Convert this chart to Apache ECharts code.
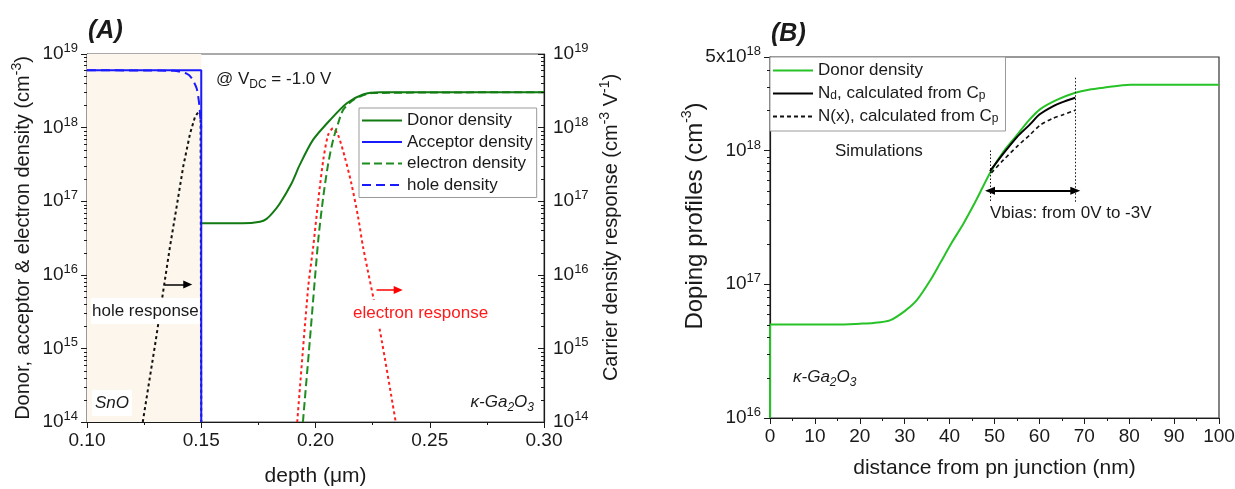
<!DOCTYPE html>
<html>
<head>
<meta charset="utf-8">
<script src="https://cdn.jsdelivr.net/npm/echarts@6/dist/echarts.min.js"></script>
<style>
  html, body { margin: 0; padding: 0; background: #ffffff; }
  #chartA, #chartB { position: absolute; left: 0; top: 0; width: 1235px; height: 489px; }
</style>
</head>
<body>
<div id="chartA"></div>
<div id="chartB"></div>
<script>
const FONT = '"Liberation Sans", Arial, Helvetica, sans-serif';
const INK = '#1a1a1a';

// ---------------- Panel (A): densities vs depth ----------------
const depthTicksA = [0.10, 0.15, 0.20, 0.25, 0.30];   // µm
const densityRangeA = [1e14, 1e19];                   // cm^-3 (both y axes)

const acceptorDepth   = [0.100, 0.150, 0.150];
const acceptorDensity = [6.0e18, 6.0e18, 1e14];

const holeDepth   = [0.100, 0.138, 0.1436, 0.1458, 0.148, 0.1491, 0.1497, 0.150];
const holeDensity = [6.0e18, 5.9e18, 5.4e18, 4.7e18, 3.4e18, 2.1e18, 1.26e18, 1.0e18];

const donorDepthA   = [0.150, 0.168, 0.1757, 0.1786, 0.1815, 0.1844, 0.1895, 0.1932, 0.1989, 0.2063, 0.2137, 0.2208, 0.2282, 0.240, 0.300];
const donorDensityA = [5.0e16, 5.0e16, 5.25e16, 5.75e16, 7.1e16, 9.3e16, 1.74e17, 3.16e17, 6.8e17, 1.26e18, 2.14e18, 2.82e18, 3.02e18, 3.02e18, 3.02e18];

const electronDepth   = [0.1945, 0.1975, 0.2012, 0.2034, 0.2055, 0.2077, 0.2100, 0.2121, 0.2158, 0.2200, 0.2250, 0.300];
const electronDensity = [1.0e14, 1.26e15, 2.95e16, 1.15e17, 3.16e17, 6.8e17, 1.17e18, 1.74e18, 2.29e18, 2.69e18, 2.95e18, 3.02e18];

// carrier density response (cm^-3 V^-1), right axis
const holeRespDepth = [0.1244, 0.1300, 0.1363, 0.1392, 0.1421, 0.1451, 0.1473, 0.1487, 0.1497, 0.1500];
const holeResp      = [1e14, 1.23e15, 2.4e16, 8.3e16, 2.95e17, 8.3e17, 1.41e18, 1.62e18, 1.51e18, 1e14];

const elecRespDepth = [0.1920, 0.1968, 0.1990, 0.2012, 0.2034, 0.2055, 0.2077, 0.2099, 0.2128, 0.2157, 0.2186, 0.2208, 0.2282, 0.2351];
const elecResp      = [1.0e14, 6.8e15, 2.4e16, 1.02e17, 3.63e17, 7.9e17, 9.8e17, 7.9e17, 4.0e17, 1.74e17, 6.2e16, 2.4e16, 1.74e15, 1.0e14];

// ---------------- Panel (B): doping profiles vs distance ----------------
const distanceTicksB = [0, 10, 20, 30, 40, 50, 60, 70, 80, 90, 100]; // nm
const densityRangeB = [1e16, 5e18];

const donorDistB = [0, 0, 5, 10, 15, 20, 23, 26.7, 30, 32.7, 35.7, 38, 40.5, 43.1, 46, 49, 52, 54.9, 57.5, 60.2, 64, 68, 71, 74.3, 80.2, 85, 90, 100];
const donorB     = [1e16, 5.0e16, 5.0e16, 5.0e16, 5.0e16, 5.07e16, 5.13e16, 5.37e16, 6.3e16, 7.6e16, 1.07e17, 1.46e17, 2.05e17, 2.85e17, 4.3e17, 6.8e17, 9.8e17, 1.29e18, 1.66e18, 2.04e18, 2.4e18, 2.7e18, 2.85e18, 2.95e18, 3.1e18, 3.1e18, 3.1e18, 3.1e18];

const ndDist = [49, 52, 55, 58, 60, 63, 65, 68];
const ndCp   = [7.0e17, 9.5e17, 1.26e18, 1.58e18, 1.86e18, 2.14e18, 2.29e18, 2.48e18];

const nxDist = [49.3, 52, 55, 58, 60.2, 63, 65.4, 68];
const nxCp   = [6.8e17, 8.5e17, 1.07e18, 1.32e18, 1.55e18, 1.74e18, 1.86e18, 2.0e18];

const biasStart = 49, biasEnd = 68;   // nm, Vbias 0 V .. -3 V

// ---------------- helpers ----------------
const pairs = (xs, ys) => xs.map((x, i) => [x, ys[i]]);

function powerLabel(v) {
  const e = Math.floor(Math.log10(v) + 1e-9);
  const m = Math.round(v / Math.pow(10, e) * 10) / 10;
  return m === 1 ? '{b|10}{s|' + e + '}' : '{b|' + m + 'x10}{s|' + e + '}';
}
const tickRich = {
  b: { fontSize: 19, lineHeight: 24, color: INK, fontFamily: FONT },
  s: { fontSize: 13, lineHeight: 14, color: INK, fontFamily: FONT, verticalAlign: 'top' }
};
const nameRich = {
  sup: { fontSize: 14, lineHeight: 15, color: INK, fontFamily: FONT, verticalAlign: 'top' }
};
const textRich = {
  sub: { fontSize: 12, lineHeight: 13, fontFamily: FONT, verticalAlign: 'bottom' },
  isub:{ fontSize: 12, lineHeight: 13, fontFamily: FONT, fontStyle: 'italic', verticalAlign: 'bottom' }
};

// minor ticks of a log axis at 2..9 x 10^n
function logMinorValues(range) {
  const out = [];
  const lo = Math.round(Math.log10(range[0])), hi = Math.ceil(Math.log10(range[1]));
  for (let e = lo; e < hi; e++) for (let m = 2; m <= 9; m++) {
    const v = m * Math.pow(10, e);
    if (v < range[1]) out.push(v);
  }
  return out;
}
function minorTickSeries(values, xEdge, yAxisIndex, len) {
  return {
    type: 'custom', yAxisIndex: yAxisIndex, silent: true, clip: false, z: 6,
    data: values.map(v => [xEdge, v]),
    renderItem: (params, api) => {
      const p = api.coord([api.value(0), api.value(1)]);
      const y = Math.round(p[1]) + 0.5;
      return { type: 'line', shape: { x1: p[0] - len, y1: y, x2: p[0], y2: y },
               style: { stroke: INK, lineWidth: 1 } };
    }
  };
}
function valueXAxis(ticks, interval, name, nameGap, digits) {
  return {
    type: 'value', min: ticks[0], max: ticks[ticks.length - 1], interval: interval,
    name: name, nameLocation: 'middle', nameGap: nameGap, nameMoveOverlap: false,
    nameTextStyle: { fontSize: 21, color: INK, fontFamily: FONT },
    axisLine: { show: true, onZero: false, lineStyle: { color: INK, width: 1.2 } },
    axisTick: { show: true, length: 6, lineStyle: { color: INK, width: 1 } },
    minorTick: { show: true, splitNumber: 2, length: 3, lineStyle: { color: INK, width: 1 } },
    axisLabel: { fontSize: 19, color: INK, fontFamily: FONT, margin: 9,
                 formatter: v => v.toFixed(digits) },
    splitLine: { show: false }, minorSplitLine: { show: false }
  };
}
function logYAxis(range, opts) {
  return Object.assign({
    type: 'log', logBase: 10, min: range[0], max: range[1],
    nameLocation: 'middle', nameRotate: 90, nameMoveOverlap: false,
    axisLine: { show: true, lineStyle: { color: INK, width: 1.2 } },
    axisTick: { show: true, length: 6, lineStyle: { color: INK, width: 1 } },
    axisLabel: { color: INK, fontFamily: FONT, margin: 9, formatter: powerLabel, rich: tickRich },
    splitLine: { show: false }, minorTick: { show: false }, minorSplitLine: { show: false }
  }, opts);
}
function label(text, x, y, extra) {
  return {
    type: 'text', x: x, y: y, z: 100, silent: true,
    style: Object.assign({
      text: text, fill: INK, fontSize: 17, fontFamily: FONT,
      lineHeight: 24, align: 'left', verticalAlign: 'middle', rich: textRich
    }, extra || {})
  };
}
function legendBox(left, top, padding, gap, names) {
  return {
    left: left, top: top, orient: 'vertical', selectedMode: false,
    itemWidth: 40, itemHeight: 12, itemGap: gap, padding: padding,
    itemStyle: { opacity: 0 },
    backgroundColor: '#ffffff', borderColor: '#9a9a9a', borderWidth: 1, borderRadius: 0,
    textStyle: { fontSize: 17, color: INK, fontFamily: FONT, rich: textRich },
    data: names
  };
}

// ---------------- chart (A) ----------------
const gridA = { left: 87, top: 54, width: 457, height: 368 };

const optionA = {
  animation: false,
  backgroundColor: '#ffffff',
  textStyle: { fontFamily: FONT },
  grid: Object.assign({ show: true, borderColor: '#555', borderWidth: 1, backgroundColor: 'transparent',
                        outerBoundsMode: 'none', containLabel: false }, gridA),
  xAxis: valueXAxis(depthTicksA, 0.05, 'depth (μm)', 44, 2),
  yAxis: [
    logYAxis(densityRangeA, {
      name: 'Donor, acceptor & electron density (cm{sup|-3})', nameGap: 51,
      nameTextStyle: { fontSize: 20, color: INK, fontFamily: FONT, lineHeight: 26, rich: nameRich }
    }),
    logYAxis(densityRangeA, {
      position: 'right',
      name: 'Carrier density response (cm{sup|-3} V{sup|-1})', nameGap: 54,
      nameTextStyle: { fontSize: 20, color: INK, fontFamily: FONT, lineHeight: 26, rich: nameRich,
                       padding: [0, 0, 0, 21] },
      axisTick: { show: true, inside: true, length: 6, lineStyle: { color: INK, width: 1 } }
    })
  ],
  legend: legendBox(359, 108, [4, 4, 4, 2], 4.5,
                    ['Donor density', 'Acceptor density', 'electron density', 'hole density']),
  graphic: [
    label('(A)', 88, 31, { fontSize: 25, fontWeight: 'bold', fontStyle: 'italic' }),
    label('@ V{sub|DC} = -1.0 V', 214, 79, { backgroundColor: '#ffffff', padding: [0, 2] }),
    label('hole response', 91, 311, { backgroundColor: '#ffffff', padding: [1, 1] }),
    label('SnO', 92, 403, { fontStyle: 'italic', backgroundColor: '#ffffff', padding: [1, 3] }),
    label('electron response', 352, 313, { fill: '#ff1a1a', backgroundColor: '#ffffff', padding: [1, 1] }),
    label('κ-Ga{isub|2}O{isub|3}', 536, 402, { fontStyle: 'italic', align: 'right', backgroundColor: '#ffffff', padding: [0, 2] })
  ],
  series: [
    {
      name: 'hole response', type: 'line', yAxisIndex: 1, symbol: 'none', z: 2,
      data: pairs(holeRespDepth, holeResp),
      lineStyle: { color: '#111111', width: 2, type: [3, 3] },
      markLine: {
        silent: true, animation: false, symbol: ['none', 'triangle'], symbolSize: [8, 9],
        label: { show: false }, lineStyle: { color: '#000000', width: 1.5, type: 'solid' },
        data: [[{ coord: [0.1341, 7.4e15] }, { coord: [0.1441, 7.4e15] }]]
      }
    },
    {
      name: 'electron response', type: 'line', yAxisIndex: 1, symbol: 'none', z: 2,
      smooth: 0.25,
      data: pairs(elecRespDepth, elecResp),
      lineStyle: { color: '#ff2020', width: 2, type: [3, 3] },
      markLine: {
        silent: true, animation: false, symbol: ['none', 'triangle'], symbolSize: [8, 9],
        label: { show: false }, lineStyle: { color: '#ff0000', width: 1.5, type: 'solid' },
        data: [[{ coord: [0.2267, 6.2e15] }, { coord: [0.2362, 6.2e15] }]]
      }
    },
    {
      name: 'electron density', type: 'line', symbol: 'none', z: 3,
      smooth: 0.25,
      data: pairs(electronDepth, electronDensity),
      lineStyle: { color: '#1e8c1e', width: 2, type: [8, 4] }
    },
    {
      name: 'Donor density', type: 'line', symbol: 'none', z: 3,
      smooth: 0.25,
      data: pairs(donorDepthA, donorDensityA),
      lineStyle: { color: '#117a11', width: 2 }
    },
    {
      name: 'hole density', type: 'line', symbol: 'none', z: 3,
      smooth: 0.25,
      data: pairs(holeDepth, holeDensity),
      lineStyle: { color: '#1a1aff', width: 2, type: [9, 5] }
    },
    {
      name: 'Acceptor density', type: 'line', symbol: 'none', z: 4,
      data: pairs(acceptorDepth, acceptorDensity),
      lineStyle: { color: '#1a1aff', width: 2 },
      markArea: {
        silent: true, itemStyle: { color: '#fdf6ed' },
        data: [[{ xAxis: depthTicksA[0] }, { xAxis: 0.15 }]]
      }
    },
    minorTickSeries(logMinorValues(densityRangeA), depthTicksA[0], 0, 3),
    minorTickSeries(logMinorValues(densityRangeA), depthTicksA[depthTicksA.length - 1], 1, 3)
  ]
};

// ---------------- chart (B) ----------------
const gridB = { left: 770, top: 57, width: 449, height: 361 };

const optionB = {
  animation: false,
  textStyle: { fontFamily: FONT },
  grid: Object.assign({ show: true, borderColor: '#333', borderWidth: 1.2, backgroundColor: 'transparent',
                        outerBoundsMode: 'none', containLabel: false }, gridB),
  xAxis: valueXAxis(distanceTicksB, 10, 'distance from pn junction (nm)', 40, 0),
  yAxis: logYAxis(densityRangeB, {
    name: 'Doping profiles (cm{sup|-3})', nameGap: 60,
    nameTextStyle: { fontSize: 24, color: INK, fontFamily: FONT, lineHeight: 30, rich: nameRich,
                     padding: [0, 0, 0, 43] }
  }),
  legend: legendBox(770, 57, [5, 7, 6, 2], 6,
                    ['Donor density', 'N{sub|d}, calculated from C{sub|p}', 'N(x), calculated from C{sub|p}']),
  graphic: [
    label('(B)', 771, 34, { fontSize: 25, fontWeight: 'bold', fontStyle: 'italic' }),
    label('Simulations', 835, 151),
    label('Vbias: from 0V to -3V', 990, 213),
    label('κ-Ga{isub|2}O{isub|3}', 793, 377, { fontStyle: 'italic' })
  ],
  series: [
    {
      name: 'Donor density', type: 'line', symbol: 'none', z: 3,
      smooth: 0.25,
      data: pairs(donorDistB, donorB),
      lineStyle: { color: '#27c227', width: 2 }
    },
    {
      name: 'N(x), calculated from C{sub|p}', type: 'line', symbol: 'none', z: 4,
      smooth: 0.25,
      data: pairs(nxDist, nxCp),
      lineStyle: { color: '#111111', width: 1.6, type: [4, 3] },
      markLine: {
        silent: true, animation: false, symbol: ['none', 'none'],
        label: { show: false }, lineStyle: { color: '#111111', width: 1, type: [1.5, 2] },
        data: [
          [{ coord: [biasStart, 1.0e18] }, { coord: [biasStart, 4.06e17] }],
          [{ coord: [biasEnd, 3.5e18] }, { coord: [biasEnd, 4.06e17] }],
          [{ coord: [biasStart, 5.0e17], symbol: 'triangle', symbolSize: [8, 10],
             lineStyle: { color: '#000000', width: 2, type: 'solid' } },
           { coord: [biasEnd, 5.0e17], symbol: 'triangle', symbolSize: [8, 10] }]
        ]
      }
    },
    {
      name: 'N{sub|d}, calculated from C{sub|p}', type: 'line', symbol: 'none', z: 5,
      smooth: 0.25,
      data: pairs(ndDist, ndCp),
      lineStyle: { color: '#000000', width: 2 }
    },
    minorTickSeries(logMinorValues(densityRangeB), distanceTicksB[0], 0, 3)
  ]
};

const chartA = echarts.init(document.getElementById('chartA'), null, { renderer: 'canvas' });
chartA.setOption(optionA);
const chartB = echarts.init(document.getElementById('chartB'), null, { renderer: 'canvas' });
chartB.setOption(optionB);
</script>
</body>
</html>
